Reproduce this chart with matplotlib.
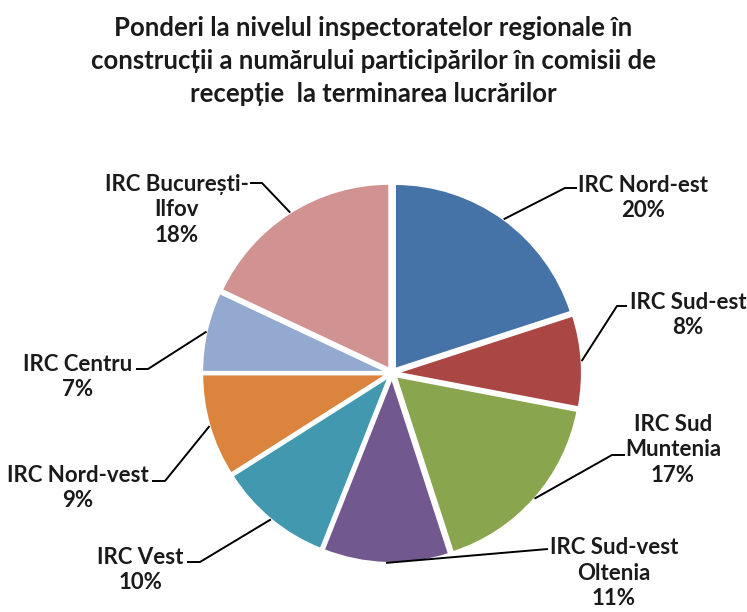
import matplotlib.pyplot as plt
import numpy as np

plt.rcParams['font.family'] = ['Lato', 'DejaVu Sans']

# Data
LABELS = ["IRC Nord-est", "IRC Sud-est", "IRC Sud\nMuntenia", "IRC Sud-vest\nOltenia",
          "IRC Vest", "IRC Nord-vest", "IRC Centru", "IRC București-\nIlfov"]
SHARES = [20, 8, 17, 11, 10, 9, 7, 18]
COLORS = ["#4572A7", "#AA4643", "#89A54E", "#71588F",
          "#4198AF", "#DB843D", "#93A9CF", "#D19392"]

TITLE = ("Ponderi la nivelul inspectoratelor regionale în\n"
         "construcții a numărului participărilor în comisii de\n"
         "recepție  la terminarea lucrărilor")

W, H = 747, 612
CX, CY, R = 392, H - 373, 185
EXPLODE = 5  # pie() takes explode in data units, here pixels

# label text centre (pixel coords, y from top), leader elbow and end of short horizontal
LABEL_POS = [(643, 198), (688, 315), (673, 450), (614, 573),
             (140, 570), (78, 488), (78, 377), (177, 210)]
ELBOWS = [(565, 188), (617, 306), (612, 455), (548, 549),
          (200, 562), (165, 481), (148, 369), (262, 183)]
ELBOW_END = [577, 627, 625, 548, 187, 152, 136, 250]

fig = plt.figure(figsize=(W / 100, H / 100), dpi=100)
ax = fig.add_axes([0, 0, 1, 1])

wedges, _ = ax.pie(SHARES, colors=COLORS, startangle=90, counterclock=False,
                   center=(CX, CY), radius=R, explode=[EXPLODE] * len(SHARES),
                   wedgeprops=dict(edgecolor='white', linewidth=1.5), frame=True)
ax.set_xlim(0, W)
ax.set_ylim(0, H)
ax.set_aspect('equal')
ax.axis('off')

total = sum(SHARES)
for w, lab, share, (lx, ly), (ex, ey), end_x in zip(wedges, LABELS, SHARES, LABEL_POS, ELBOWS, ELBOW_END):
    ang = np.deg2rad((w.theta1 + w.theta2) / 2)
    rr = R + EXPLODE
    sx = CX + rr * np.cos(ang)
    sy = CY + rr * np.sin(ang)
    ax.plot([sx, ex, end_x], [sy, H - ey, H - ey], color='black', lw=1.4,
            solid_capstyle='butt', solid_joinstyle='miter')
    pct = round(100 * share / total)
    ax.text(lx, H - ly, f"{lab}\n{pct}%", ha='center', va='center',
            fontsize=16, fontweight='bold', color='#1a1a1a', linespacing=1.25)

fig.text(0.5, 1 - 61 / H, TITLE, ha='center', va='center', fontsize=18.5,
         fontweight='bold', color='#1a1a1a', linespacing=1.45)

fig.savefig("out.png", dpi=100)
